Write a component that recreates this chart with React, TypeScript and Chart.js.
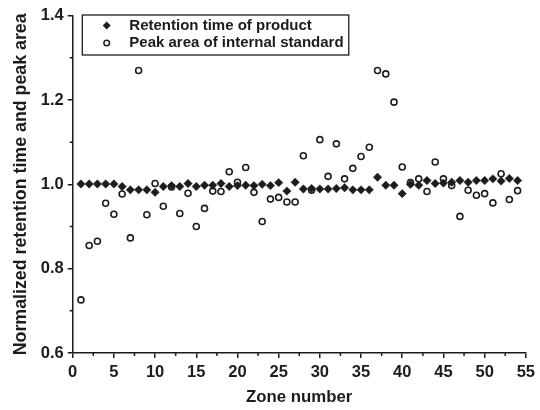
import React, { useEffect, useRef } from "react";
import { Chart, registerables } from "chart.js";

Chart.register(...registerables);

// ---- data ----
const zones = [
  1, 2, 3, 4, 5, 6, 7, 8, 9, 10, 11, 12, 13, 14, 15, 16, 17, 18, 19, 20,
  21, 22, 23, 24, 25, 26, 27, 28, 29, 30, 31, 32, 33, 34, 35, 36, 37, 38, 39, 40,
  41, 42, 43, 44, 45, 46, 47, 48, 49, 50, 51, 52, 53, 54,
];
const retentionTime = [
  1.001, 1.001, 1.001, 1.001, 1.001, 0.995, 0.987, 0.987, 0.987, 0.981,
  0.995, 0.997, 0.995, 1.002, 0.995, 0.998, 0.998, 1.002, 0.995, 0.997,
  0.998, 0.997, 1.0, 0.997, 1.004, 0.984, 1.005, 0.989, 0.99, 0.989,
  0.989, 0.99, 0.992, 0.987, 0.987, 0.987, 1.017, 0.998, 0.998, 0.978,
  1.0, 0.998, 1.009, 1.002, 1.003, 1.005, 1.009, 1.005, 1.009, 1.009,
  1.013, 1.008, 1.014, 1.009,
];
const peakArea = [
  0.726, 0.855, 0.865, 0.955, 0.929, 0.977, 0.873, 1.27, 0.928, 1.002,
  0.948, 0.994, 0.931, 0.979, 0.9, 0.943, 0.984, 0.983, 1.03, 1.005,
  1.04, 0.981, 0.912, 0.965, 0.969, 0.958, 0.958, 1.068, 0.986, 1.106,
  1.019, 1.096, 1.013, 1.038, 1.066, 1.088, 1.27, 1.262, 1.195, 1.041,
  1.004, 1.013, 0.983, 1.053, 1.013, 0.997, 0.924, 0.986, 0.974, 0.978,
  0.956, 1.025, 0.964, 0.985,
];
const seriesNames = ["Retention time of product", "Peak area of internal standard"];
const xMinorTicks = [2.5, 7.5, 12.5, 17.5, 22.5, 27.5, 32.5, 37.5, 42.5, 47.5, 52.5];
const yMinorTicks = [0.7, 0.9, 1.1, 1.3];
const xTitle = "Zone number";
const yTitle = "Normalized retention time and peak area";

const INK = "#1c1c1c";
const FONT = "'Liberation Sans', Arial, sans-serif";

const extrasPlugin = {
  id: "extras",
  afterDraw(chart: any) {
    const { ctx, chartArea, scales } = chart;
    const xs = scales.x;
    const ys = scales.y;
    ctx.save();
    // minor ticks
    ctx.strokeStyle = INK;
    ctx.lineWidth = 1.5;
    ctx.beginPath();
    for (const v of xMinorTicks) {
      const px = xs.getPixelForValue(v);
      ctx.moveTo(px, chartArea.bottom);
      ctx.lineTo(px, chartArea.bottom + 3);
    }
    for (const v of yMinorTicks) {
      const py = ys.getPixelForValue(v);
      ctx.moveTo(chartArea.left, py);
      ctx.lineTo(chartArea.left - 3, py);
    }
    ctx.stroke();

    // legend box
    const bx = chartArea.left + 9.6;
    const by = chartArea.top - 0.7;
    const bw = 266.5;
    const bh = 40;
    ctx.lineWidth = 1.3;
    ctx.strokeStyle = INK;
    ctx.fillStyle = "#ffffff";
    ctx.fillRect(bx, by, bw, bh);
    ctx.strokeRect(bx, by, bw, bh);

    const mx = bx + 24.4;
    const y1 = by + 10.5;
    const y2 = by + 28;
    // diamond
    ctx.fillStyle = INK;
    ctx.beginPath();
    ctx.moveTo(mx - 4, y1);
    ctx.lineTo(mx, y1 - 4);
    ctx.lineTo(mx + 4, y1);
    ctx.lineTo(mx, y1 + 4);
    ctx.closePath();
    ctx.fill();
    // circle
    ctx.beginPath();
    ctx.lineWidth = 1.5;
    ctx.arc(mx, y2, 2.8, 0, Math.PI * 2);
    ctx.fillStyle = "#fff";
    ctx.fill();
    ctx.stroke();

    ctx.fillStyle = INK;
    ctx.font = `bold 15px ${FONT}`;
    ctx.textBaseline = "middle";
    ctx.textAlign = "left";
    ctx.fillText(seriesNames[0], bx + 47, y1);
    ctx.fillText(seriesNames[1], bx + 47, y2);
    ctx.restore();
  },
};

export default function App() {
  const ref = useRef<HTMLCanvasElement | null>(null);

  useEffect(() => {
    if (!ref.current) return;
    const chart = new Chart(ref.current, {
      type: "scatter",
      data: {
        datasets: [
          {
            label: seriesNames[0],
            data: zones.map((z, i) => ({ x: z, y: retentionTime[i] })),
            pointStyle: "rectRot",
            pointRadius: 4.2,
            backgroundColor: INK,
            borderColor: INK,
            borderWidth: 0.5,
          },
          {
            label: seriesNames[1],
            data: zones.map((z, i) => ({ x: z, y: peakArea[i] })),
            pointStyle: "circle",
            pointRadius: 3,
            backgroundColor: "#ffffff",
            borderColor: INK,
            borderWidth: 1.6,
          },
        ],
      },
      options: {
        animation: false,
        responsive: false,
        maintainAspectRatio: false,
        layout: { padding: { left: 0, top: 15.7, right: 11.3, bottom: 0 } },
        plugins: {
          legend: { display: false },
          tooltip: { enabled: false },
        },
        scales: {
          x: {
            type: "linear",
            min: 0,
            max: 55,
            afterFit(scale: any) {
              scale.height = 57;
            },
            ticks: {
              stepSize: 5,
              color: INK,
              padding: 5,
              maxRotation: 0,
              font: { family: FONT, size: 16.5, weight: "bold" },
            },
            grid: {
              display: true,
              drawOnChartArea: false,
              drawTicks: true,
              tickLength: 5,
              color: INK,
              lineWidth: 1.5,
            },
            border: { display: true, color: INK, width: 1.5 },
            title: {
              display: true,
              text: xTitle,
              color: INK,
              font: { family: FONT, size: 16.8, weight: "bold" },
              padding: { top: 0, bottom: 2.4 },
            },
          },
          y: {
            type: "linear",
            min: 0.6,
            max: 1.4,
            afterFit(scale: any) {
              scale.width = 72.7;
            },
            ticks: {
              stepSize: 0.2,
              color: INK,
              padding: 4,
              font: { family: FONT, size: 16.5, weight: "bold" },
              callback: (v: any) => Number(v).toFixed(1),
            },
            grid: {
              display: true,
              drawOnChartArea: false,
              drawTicks: true,
              tickLength: 5,
              color: INK,
              lineWidth: 1.5,
            },
            border: { display: true, color: INK, width: 1.5 },
            title: {
              display: true,
              text: yTitle,
              color: INK,
              font: { family: FONT, size: 17.8, weight: "bold" },
              padding: { top: 10, bottom: 0 },
            },
          },
        },
      },
      plugins: [extrasPlugin],
    });
    return () => chart.destroy();
  }, []);

  return (
    <div style={{ position: "absolute", left: 0, top: 0, width: 540, height: 410, background: "#fff" }}>
      <canvas ref={ref} width={540} height={410} style={{ width: 540, height: 410 }} />
    </div>
  );
}
